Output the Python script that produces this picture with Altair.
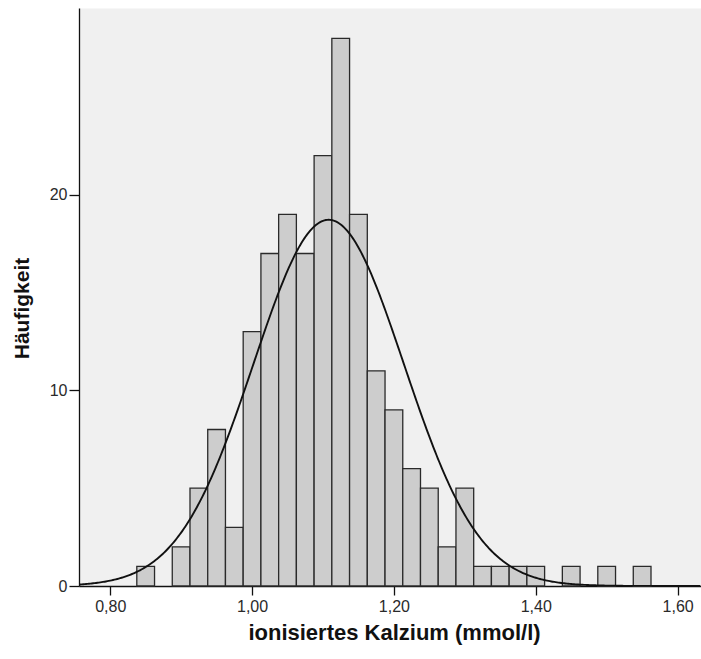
import altair as alt
import pandas as pd

# Histogram of ionised calcium (bin width 0.025 mmol/l), empty bins omitted
bin_centers = [0.85, 0.90, 0.925, 0.95, 0.975, 1.00, 1.025, 1.05, 1.075, 1.10,
               1.125, 1.15, 1.175, 1.20, 1.225, 1.25, 1.275, 1.30, 1.325, 1.35,
               1.375, 1.40, 1.45, 1.50, 1.55]
counts = [1, 2, 5, 8, 3, 13, 17, 19, 17, 22,
          28, 19, 11, 9, 6, 5, 2, 5, 1, 1,
          1, 1, 1, 1, 1]
bin_width = 0.025

# Normal curve parameters (sample mean, SD, N)
mean_ca = 1.108
sd_ca = 0.106
n_total = sum(counts)

x_ticks = [0.8, 1.0, 1.2, 1.4, 1.6]
y_ticks = [0, 10, 20]
x_domain = [0.756, 1.633]
y_domain = [0, 29.55]

bars_df = pd.DataFrame({
    "lo": [c - bin_width / 2 for c in bin_centers],
    "hi": [c + bin_width / 2 for c in bin_centers],
    "n": counts,
})

FONT = "Liberation Sans"

x_scale = alt.Scale(domain=x_domain, nice=False, zero=False)
y_scale = alt.Scale(domain=y_domain, nice=False, zero=True)

bars = alt.Chart(bars_df).mark_rect(
    fill="#cdcdcd", stroke="#2a2a2a", strokeWidth=1.3
).encode(
    x=alt.X("lo:Q", scale=x_scale, axis=alt.Axis(
        values=x_ticks,
        labelExpr="replace(format(datum.value, '.2f'), '.', ',')",
        title="ionisiertes Kalzium (mmol/l)",
        titleY=53, titleBaseline="alphabetic", titleX=315,
        titleAnchor="middle", titleAlign="center", titleFontSize=22,
        tickSize=9, labelPadding=3, grid=False,
    )),
    x2="hi:Q",
    y=alt.Y("n:Q", scale=y_scale, axis=alt.Axis(
        values=y_ticks, format="d",
        title="Häufigkeit",
        titleX=-57, titleY=300, titleBaseline="middle",
        titleAlign="center", titleAngle=270, titleFontSize=21,
        tickSize=10, labelPadding=2, grid=False,
    )),
    y2=alt.datum(0),
)

curve = alt.Chart(alt.sequence(x_domain[0], x_domain[1] + 0.001, 0.002, as_="x")).transform_calculate(
    dens=f"{n_total} * {bin_width} / ({sd_ca} * sqrt(2 * PI)) * exp(-0.5 * pow((datum.x - {mean_ca}) / {sd_ca}, 2))"
).mark_line(color="#111111", strokeWidth=1.9, clip=True).encode(
    x=alt.X("x:Q", scale=x_scale),
    y=alt.Y("dens:Q", scale=y_scale),
)

chart = alt.layer(bars, curve).properties(
    width=622, height=578,
    autosize=alt.AutoSizeParams(type="none"),
    padding={"left": 79, "top": 8, "right": 0, "bottom": 73},
).configure_view(
    fill="#f0f0f0", stroke="transparent"
).configure_axis(
    domainColor="#111111", domainWidth=1.3,
    tickColor="#111111", tickWidth=1.3,
    labelFont=FONT, labelFontSize=16, labelColor="#2a2a2a",
    titleFont=FONT, titleFontWeight="bold", titleColor="#111111",
)

chart.save("out.html", embed_options={"renderer": "svg", "actions": False})
